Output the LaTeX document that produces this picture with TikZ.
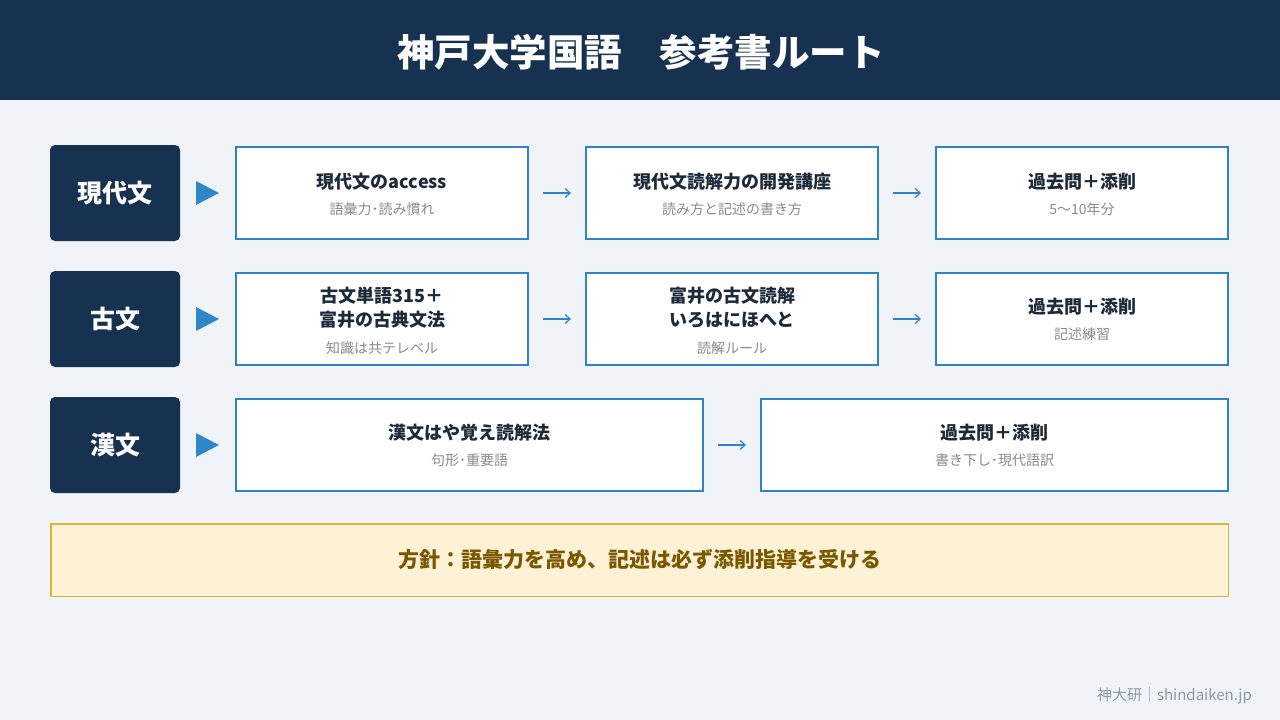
\documentclass[tikz,border=0pt]{standalone}
\usepackage{fontspec}
\setmainfont{Noto Sans CJK JP}
\usetikzlibrary{arrows.meta}
\definecolor{bgc}{HTML}{F0F4F9}
\definecolor{navy}{HTML}{173250}
\definecolor{bluec}{HTML}{2F82C6}
\definecolor{tric}{HTML}{2F86C8}
\definecolor{darkt}{HTML}{1C2A3A}
\definecolor{grayt}{HTML}{8A8A8A}
\definecolor{polfill}{HTML}{FDF2D6}
\definecolor{polborder}{HTML}{DFB13A}
\definecolor{poltext}{HTML}{7A5800}
\definecolor{foott}{HTML}{8A9AA8}
\begin{document}
\begin{tikzpicture}[x=1pt,y=-1pt,
  subject/.style={fill=navy, rounded corners=5pt, minimum width=130pt, minimum height=96pt, inner sep=0pt, text=white, font=\bfseries\fontsize{25}{30}\selectfont},
  book/.style={draw=bluec, line width=2pt, fill=white, minimum height=92pt, inner sep=0pt},
  btitle/.style={text=darkt, font=\bfseries\fontsize{18}{24}\selectfont, align=center, inner sep=0pt},
  bsub/.style={text=grayt, font=\fontsize{14}{18}\selectfont, inner sep=0pt},
  flow/.style={draw=bluec, line width=1.2pt, -{Straight Barb[length=5pt,width=9pt]}, shorten <=14pt, shorten >=14pt},
  tri/.style={fill=tric}
]
\useasboundingbox (0,0) rectangle (1280,720);
\fill[bgc] (0,0) rectangle (1280,720);
\fill[navy] (0,0) rectangle (1280,100);
\node[text=white, font=\bfseries\fontsize{37.5}{42}\selectfont] (title) at (641,52) {神戸大学国語　参考書ルート};

% row 1
\node[subject] (s1) at (115,193) {現代文};
\fill[tri] (196,181) -- (219,193) -- (196,205) -- cycle;
\node[book, minimum width=292pt] (b11) at (382,193) {};
\node[book, minimum width=292pt] (b12) at (732,193) {};
\node[book, minimum width=292pt] (b13) at (1082,193) {};
\node[btitle] (t11) at (382,182) {現代文のaccess};
\node[bsub] (u11) at (382,209) {語彙力･読み慣れ};
\node[btitle] (t12) at (732,182) {現代文読解力の開発講座};
\node[bsub] (u12) at (732,209) {読み方と記述の書き方};
\node[btitle] (t13) at (1082,182) {過去問＋添削};
\node[bsub] (u13) at (1082,209) {5〜10年分};
\draw[flow] (b11) -- (b12);
\draw[flow] (b12) -- (b13);

% row 2
\node[subject] (s2) at (115,319) {古文};
\fill[tri] (196,307) -- (219,319) -- (196,331) -- cycle;
\node[book, minimum width=292pt] (b21) at (382,319) {};
\node[book, minimum width=292pt] (b22) at (732,319) {};
\node[book, minimum width=292pt] (b23) at (1082,319) {};
\node[btitle] (t21) at (382,308) {古文単語315＋\\富井の古典文法};
\node[bsub] (u21) at (382,348) {知識は共テレベル};
\node[btitle] (t22) at (732,308) {富井の古文読解\\いろはにほへと};
\node[bsub] (u22) at (732,348) {読解ルール};
\node[btitle] (t23) at (1082,307) {過去問＋添削};
\node[bsub] (u23) at (1082,334) {記述練習};
\draw[flow] (b21) -- (b22);
\draw[flow] (b22) -- (b23);

% row 3
\node[subject] (s3) at (115,445) {漢文};
\fill[tri] (196,433) -- (219,445) -- (196,457) -- cycle;
\node[book, minimum width=467pt] (b31) at (469.5,445) {};
\node[book, minimum width=467pt] (b32) at (994.5,445) {};
\node[btitle] (t31) at (469.5,433) {漢文はや覚え読解法};
\node[bsub] (u31) at (469.5,460) {句形･重要語};
\node[btitle] (t32) at (994.5,433) {過去問＋添削};
\node[bsub] (u32) at (994.5,460) {書き下し･現代語訳};
\draw[flow] (b31) -- (b32);

% policy
\node[draw=polborder, line width=1.5pt, fill=polfill, minimum width=1177.5pt, minimum height=72.5pt, inner sep=0pt,
  text=poltext, font=\bfseries\fontsize{21}{26}\selectfont] (policy) at (639.5,560) {方針：語彙力を高め、記述は必ず添削指導を受ける};

% footer
\node[anchor=east, text=foott, font=\fontsize{15}{18}\selectfont, inner sep=0pt] (footer) at (1252,696) {神大研｜shindaiken.jp};
\end{tikzpicture}
\end{document}
